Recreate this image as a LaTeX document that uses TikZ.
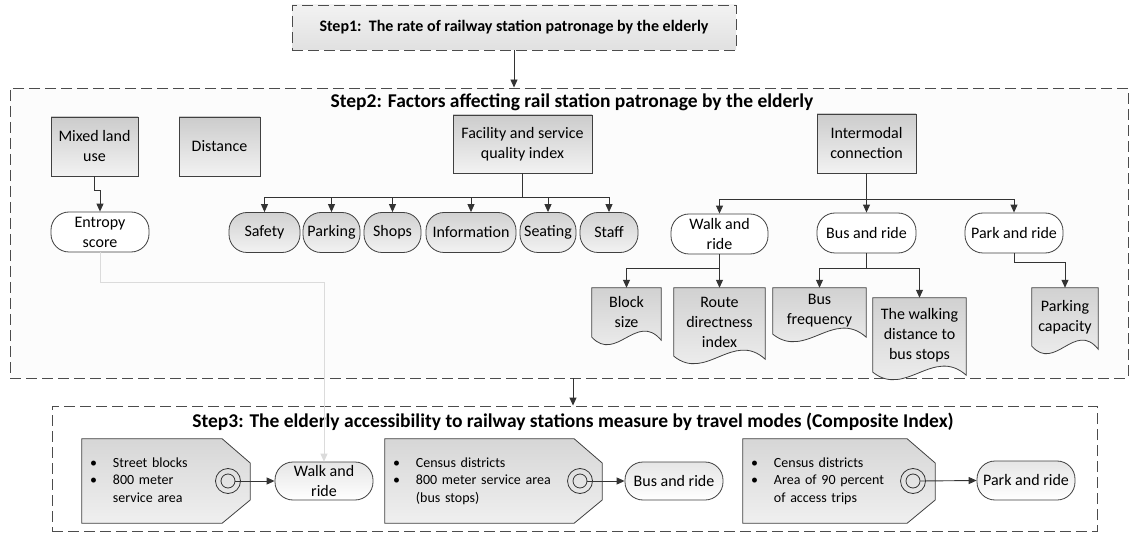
\documentclass[tikz,border=0pt]{standalone}
\usepackage{fontspec}
\setmainfont{Carlito}
\usetikzlibrary{arrows.meta,calc}
\pgfdeclarelayer{frames}
\pgfdeclarelayer{shapes}
\pgfsetlayers{frames,shapes,main}
\newcommand\docpath[1]{\draw[docfill] (#1.north west) -- (#1.north east) -- ($(#1.south east)+(0,3)$) .. controls ($(#1.south west)!0.65!(#1.south east)+(0,-26)$) and ($(#1.south west)!0.35!(#1.south east)+(0,26)$) .. (#1.south west) -- cycle;}
\newcommand\tagpath[1]{\draw[tagfill] (#1.north west) -- ($(#1.north east)+(-28,0)$) -- ($(#1.east)+(0,-18)$) -- ($(#1.east)+(0,19)$) -- ($(#1.south east)+(-28,0)$) -- (#1.south west) -- cycle;}
\begin{document}
\begin{tikzpicture}[x=1pt,y=-1pt,
  every node/.style={font=\fontsize{16}{20}\selectfont, align=center, inner sep=0pt},
  ln/.style={draw=black!80, line width=0.9pt},
  arr/.style={ln, -{Triangle[length=8pt,width=7pt]}},
  faint/.style={draw=black!14, line width=0.9pt, -{Triangle[length=8pt,width=7pt]}},
  frame/.style={draw=black!70, line width=0.9pt, dash pattern=on 11pt off 5pt},
  title/.style={font=\fontsize{19.5}{22}\selectfont\bfseries},
  graybox/.style={draw=black!75, line width=0.8pt, top color=black!20, bottom color=black!5},
  grayterm/.style={draw=black!75, line width=0.8pt, rounded corners=18pt, top color=black!18, bottom color=black!5},
  whiteterm/.style={draw=black!75, line width=0.8pt, rounded corners=18pt, fill=white},
  lightterm/.style={draw=black!75, line width=0.8pt, rounded corners=18pt, top color=black!10, bottom color=white},
  docfill/.style={draw=black!75, line width=0.8pt, top color=black!18, bottom color=black!5},
  tagfill/.style={draw=black!75, line width=0.8pt, top color=black!16, bottom color=black!6},
  tagnode/.style={font=\fontsize{14}{17.5}\selectfont, align=left},
  ring/.style={circle, draw=black!80, line width=0.8pt}
]
\useasboundingbox (0,0) rectangle (1135,537);

% ---------- frames ----------
\begin{pgfonlayer}{frames}
\node[frame, top color=black!5, bottom color=black!12, minimum width=444, minimum height=45, font=\fontsize{16}{20}\selectfont\bfseries] (step1) at (514,27.5) {Step1:\ \ The rate of railway station patronage by the elderly};
\node[frame, fill=black!1, minimum width=1118, minimum height=290] (step2) at (569,233) {};
\node[frame, fill=white, minimum width=1045, minimum height=125] (step3) at (574.5,468.5) {};
\end{pgfonlayer}

\node[title] (t2) at (572,102) {Step2: Factors affecting rail station patronage by the elderly};
\node[title] (t3) at (573,422) {Step3: The elderly accessibility to railway stations measure by travel modes (Composite Index)};

% ---------- step2 boxes ----------
\node[graybox, minimum width=87, minimum height=59] (mixed) at (94.5,146.5) {Mixed land\\use};
\node[graybox, minimum width=81, minimum height=59] (dist) at (219.5,146.5) {Distance};
\node[graybox, minimum width=139, minimum height=58] (fac) at (522.5,144) {Facility and service\\quality index};
\node[graybox, minimum width=99, minimum height=59] (inter) at (866.5,143.5) {Intermodal\\connection};

\node[whiteterm, minimum width=98, minimum height=40] (entropy) at (100,232) {Entropy\\score};

\node[grayterm, minimum width=71, minimum height=40] (safety) at (264.5,232.5) {Safety};
\node[grayterm, minimum width=57, minimum height=40] (parking) at (331.5,232.5) {Parking};
\node[grayterm, minimum width=57, minimum height=40] (shops) at (392.5,232.5) {Shops};
\node[grayterm, minimum width=90, minimum height=40] (info) at (471,232.5) {Information};
\node[grayterm, minimum width=56, minimum height=40] (seating) at (548,232.5) {Seating};
\node[grayterm, minimum width=58, minimum height=40] (staff) at (609,232.5) {Staff};

\node[whiteterm, minimum width=97, minimum height=40] (walk2) at (719.5,234) {Walk and\\ride};
\node[whiteterm, minimum width=99, minimum height=40] (bus2) at (866.5,233) {Bus and ride};
\node[whiteterm, minimum width=98, minimum height=40] (park2) at (1014,233) {Park and ride};

% documents
\node[minimum width=69, minimum height=49] (block) at (626.5,312.5) {Block\\size};
\node[minimum width=91, minimum height=68] (route) at (719.5,322) {Route\\directness\\index};
\node[minimum width=93, minimum height=46] (busfreq) at (819.5,311) {Bus\\frequency};
\node[minimum width=93, minimum height=74] (walkdist) at (919.5,335) {The walking\\distance to\\bus stops};
\node[minimum width=66, minimum height=58] (parkcap) at (1065,317) {Parking\\capacity};
\begin{pgfonlayer}{shapes}
\docpath{block}
\docpath{route}
\docpath{busfreq}
\docpath{walkdist}
\docpath{parkcap}
\end{pgfonlayer}

% ---------- step3 ----------
\node[tagnode, minimum width=168, minimum height=84, text width=152] (tagA) at (166,481)
 {\begin{tabular}{@{}l@{\hspace{16pt}}l@{}}\textbullet & Street blocks\\ \textbullet & 800 meter\\ & service area\end{tabular}};
\node[tagnode, minimum width=217, minimum height=84, text width=201] (tagB) at (493.5,481)
 {\begin{tabular}{@{}l@{\hspace{16pt}}l@{}}\textbullet & Census districts\\ \textbullet & 800 meter service area\\ & (bus stops)\end{tabular}};
\node[tagnode, minimum width=192, minimum height=84, text width=176] (tagC) at (839,481)
 {\begin{tabular}{@{}l@{\hspace{16pt}}l@{}}\textbullet & Census districts\\ \textbullet & Area of 90 percent\\ & of access trips\end{tabular}};
\begin{pgfonlayer}{shapes}
\tagpath{tagA}
\tagpath{tagB}
\tagpath{tagC}
\end{pgfonlayer}

\node[ring, minimum size=25] (cAo) at (228,481) {};
\node[ring, minimum size=14] (cA) at (228,481) {};
\node[ring, minimum size=25] (cBo) at (580,481) {};
\node[ring, minimum size=14] (cB) at (580,481) {};
\node[ring, minimum size=25] (cCo) at (913,481) {};
\node[ring, minimum size=14] (cC) at (913,481) {};

\node[lightterm, minimum width=98, minimum height=38] (walk3) at (324,481) {Walk and\\ride};
\node[lightterm, minimum width=98, minimum height=38] (bus3) at (674,481) {Bus and ride};
\node[lightterm, minimum width=98, minimum height=39] (park3) at (1026,480.5) {Park and ride};

% ---------- connectors ----------
\draw[arr] (step1.south) -- (step1.south |- step2.north);
\coordinate (s2o) at (573,378);
\draw[arr] (s2o) -- (s2o |- step3.north);

\draw[arr] (mixed.south) -- ++(0,14) -| (entropy.north);
\foreach \n in {safety,parking,shops,info,seating,staff}
  \draw[arr] (fac.south) -- ++(0,24) -| (\n.north);
\foreach \n in {walk2,bus2,park2}
  \draw[arr] (inter.south) -- ++(0,26) -| (\n.north);
\draw[arr] (walk2.south) -- ++(0,14) -| (block.north);
\draw[arr] (walk2.south) -- (route.north);
\draw[arr] (bus2.south) -- ++(0,15) -| (busfreq.north);
\draw[arr] (bus2.south) -- ++(0,15) -| (walkdist.north);
\draw[arr] (park2.south) -- ++(0,9) -| (parkcap.north);

\draw[faint] (entropy.south) -- ++(0,30) -| (walk3.north);

\draw[arr] (cA.east) -- (walk3.west);
\draw[arr] (cB.east) -- (bus3.west);
\draw[arr] (cC.east) -- (park3.west);
\end{tikzpicture}
\end{document}
